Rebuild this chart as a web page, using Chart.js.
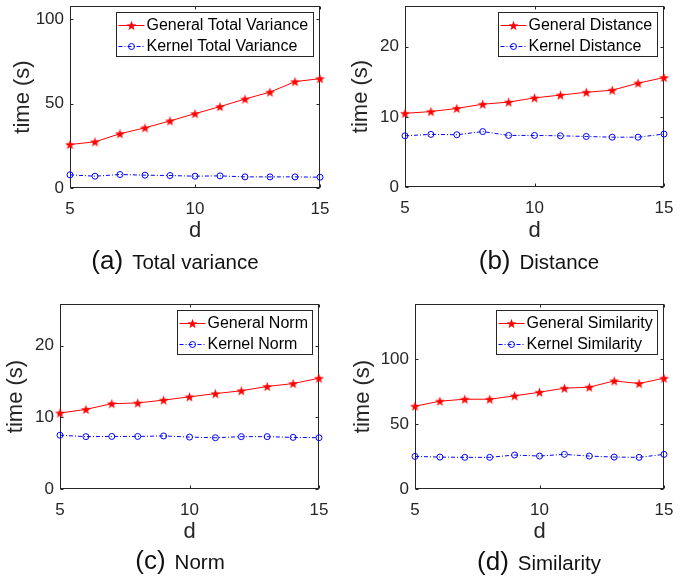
<!DOCTYPE html>
<html>
<head>
<meta charset="utf-8">
<title>Kernel vs General timing</title>
<script src="https://cdn.jsdelivr.net/npm/chart.js@4.4.1/dist/chart.umd.min.js"></script>
<style>
  html, body { margin: 0; padding: 0; background: #fff; }
  body { width: 697px; height: 577px; position: relative; overflow: hidden; font-family: "Liberation Sans", Arial, sans-serif; }
  .panel { position: absolute; }
  .caption { position: absolute; color: #111; white-space: nowrap; transform: translate(-50%, -50%); font-size: 20.5px; }
  .caption .tag { font-size: 26px; margin-right: 9px; }
</style>
</head>
<body>
<canvas id="chart-a" class="panel" style="left:0px;top:0px" width="335" height="250"></canvas>
<canvas id="chart-b" class="panel" style="left:345px;top:0px" width="340" height="250"></canvas>
<canvas id="chart-c" class="panel" style="left:0px;top:292px" width="335" height="258"></canvas>
<canvas id="chart-d" class="panel" style="left:345px;top:292px" width="340" height="258"></canvas>

<div class="caption" style="left:175px;top:260px"><span class="tag">(a)</span>Total variance</div>
<div class="caption" style="left:539px;top:260px"><span class="tag">(b)</span>Distance</div>
<div class="caption" style="left:180px;top:560px"><span class="tag">(c)</span>Norm</div>
<div class="caption" style="left:539px;top:561px"><span class="tag">(d)</span>Similarity</div>

<script>
// Data
const dValues = [5, 6, 7, 8, 9, 10, 11, 12, 13, 14, 15];
const xTicks = [5, 10, 15];

const varianceGeneral = [25.8, 27.4, 32.2, 35.7, 39.8, 44.1, 48.3, 52.8, 56.9, 63.1, 64.9];
const varianceKernel = [7.8, 7.0, 8.0, 7.6, 7.4, 7.0, 7.2, 6.6, 6.6, 6.6, 6.4];
const varianceTicks = [0, 50, 100];

const distanceGeneral = [10.5, 10.75, 11.2, 11.8, 12.1, 12.7, 13.1, 13.5, 13.8, 14.8, 15.6];
const distanceKernel = [7.3, 7.5, 7.45, 7.9, 7.35, 7.35, 7.3, 7.2, 7.1, 7.1, 7.55];
const distanceTicks = [0, 10, 20];

const normGeneral = [10.6, 11.1, 11.9, 12.0, 12.4, 12.85, 13.3, 13.7, 14.3, 14.7, 15.45];
const normKernel = [7.5, 7.3, 7.33, 7.33, 7.4, 7.24, 7.15, 7.3, 7.3, 7.2, 7.15];
const normTicks = [0, 10, 20];

const similarityGeneral = [63.8, 67.7, 69.2, 69.2, 71.8, 74.6, 77.7, 78.5, 83.3, 81.3, 85.4];
const similarityKernel = [25.1, 24.6, 24.4, 24.4, 26.2, 25.4, 26.7, 25.4, 24.6, 24.4, 26.7];
const similarityTicks = [0, 50, 100];

// Styling
const FONT = '"Liberation Sans", Arial, sans-serif';
const AXIS_COLOR = '#262626';
const RED = '#ff0000';
const BLUE = '#0000ff';

// Filled pentagram used as the point style of the "General" series
function makeStar(color) {
  const c = document.createElement('canvas');
  c.width = 11;
  c.height = 11;
  const ctx = c.getContext('2d');
  ctx.fillStyle = color;
  ctx.beginPath();
  for (let i = 0; i < 10; i++) {
    const r = i % 2 === 0 ? 5.2 : 2.1;
    const a = -Math.PI / 2 + i * Math.PI / 5;
    const x = 5.5 + r * Math.cos(a);
    const y = 6 + r * Math.sin(a);
    if (i === 0) ctx.moveTo(x, y); else ctx.lineTo(x, y);
  }
  ctx.closePath();
  ctx.fill();
  return c;
}
const starImg = makeStar(RED);

// Box with inward ticks on all four sides, plus a boxed legend (MATLAB look)
const matlabAxes = {
  id: 'matlabAxes',
  beforeDatasetsDraw(chart) {
    const { ctx, chartArea: a, scales } = chart;
    const L = Math.round(a.left) + 0.5, R = Math.round(a.right) - 0.5;
    const T = Math.round(a.top) + 0.5, B = Math.round(a.bottom) - 0.5;
    ctx.save();
    ctx.strokeStyle = AXIS_COLOR;
    ctx.lineWidth = 1;
    ctx.strokeRect(L, T, R - L, B - T);
    ctx.beginPath();
    scales.x.ticks.forEach(t => {
      const px = Math.round(scales.x.getPixelForValue(t.value)) + 0.5;
      ctx.moveTo(px, B); ctx.lineTo(px, B - 3);
      ctx.moveTo(px, T); ctx.lineTo(px, T + 3);
    });
    scales.y.ticks.forEach(t => {
      const py = Math.round(scales.y.getPixelForValue(t.value)) + 0.5;
      ctx.moveTo(L, py); ctx.lineTo(L + 3, py);
      ctx.moveTo(R, py); ctx.lineTo(R - 3, py);
    });
    ctx.stroke();
    ctx.restore();
  },
  afterDraw(chart) {
    const { ctx, chartArea: a } = chart;
    const sets = chart.data.datasets;
    ctx.save();
    ctx.font = `16px ${FONT}`;
    const textW = Math.max(...sets.map(ds => ctx.measureText(ds.label).width));
    const w = Math.round(30 + textW + 5), h = 44;
    const x0 = Math.round(a.right - 7 - w) + 0.5, y0 = Math.round(a.top + 6) + 0.5;
    ctx.fillStyle = '#fff';
    ctx.fillRect(x0, y0, w, h);
    ctx.strokeStyle = AXIS_COLOR;
    ctx.lineWidth = 1;
    ctx.strokeRect(x0, y0, w, h);

    sets.forEach((ds, i) => {
      const cy = Math.round(y0 + 12 + i * 21) + 0.5;
      ctx.strokeStyle = ds.borderColor;
      ctx.lineWidth = ds.borderWidth;
      ctx.setLineDash(ds.borderDash || []);
      ctx.beginPath();
      ctx.moveTo(x0 + 2, cy);
      ctx.lineTo(x0 + 28, cy);
      ctx.stroke();
      ctx.setLineDash([]);
      if (ds.pointStyle === 'circle') {
        ctx.beginPath();
        ctx.arc(x0 + 15, cy, ds.pointRadius, 0, Math.PI * 2);
        ctx.stroke();
      } else {
        ctx.drawImage(ds.pointStyle, Math.round(x0 + 15 - 5.5), Math.round(cy - 6));
      }
      ctx.fillStyle = '#000';
      ctx.textBaseline = 'middle';
      ctx.fillText(ds.label, x0 + 30, cy);
    });
    ctx.restore();
  }
};

// Build one panel; box = canvas position, plot = wanted plot-area edges in page pixels
function makePanel(id, box, plot, general, kernel, labels, yMax, yTicks, yTitlePad, xTitlePad) {
  const ctx = document.getElementById(id).getContext('2d');
  const toPoints = values => dValues.map((d, i) => ({ x: d, y: values[i] }));

  return new Chart(ctx, {
    type: 'line',
    data: {
      datasets: [{
        label: labels[0],
        data: toPoints(general),
        borderColor: RED,
        backgroundColor: RED,
        borderWidth: 1,
        pointStyle: starImg,
        pointRadius: 5,
        tension: 0,
        clip: false
      }, {
        label: labels[1],
        data: toPoints(kernel),
        borderColor: BLUE,
        backgroundColor: 'rgba(0,0,0,0)',
        borderWidth: 1,
        borderDash: [4, 2, 1, 2],
        pointStyle: 'circle',
        pointRadius: 3,
        pointBorderWidth: 1,
        pointBorderColor: BLUE,
        tension: 0,
        clip: false
      }]
    },
    options: {
      responsive: false,
      animation: false,
      devicePixelRatio: 1,
      layout: {
        padding: {
          top: plot.t - box.top,
          right: box.left + box.w - plot.r,
          left: 0,
          bottom: 0
        }
      },
      plugins: {
        legend: { display: false },
        tooltip: { enabled: false }
      },
      scales: {
        x: {
          type: 'linear',
          min: 5,
          max: 15,
          grid: { display: false, drawTicks: false },
          border: { display: false },
          afterBuildTicks: scale => { scale.ticks = xTicks.map(v => ({ value: v })); },
          afterFit: scale => {
            scale.height = box.top + box.h - plot.b;
            // edge labels must not shrink the plot area
            scale.paddingLeft = 0;
            scale.paddingRight = 0;
          },
          ticks: { font: { family: FONT, size: 17 }, color: AXIS_COLOR, padding: 11, maxRotation: 0 },
          title: { display: true, text: 'd', font: { family: FONT, size: 22 }, color: AXIS_COLOR, padding: { bottom: xTitlePad, top: 0 } }
        },
        y: {
          type: 'linear',
          min: 0,
          max: yMax,
          grid: { display: false, drawTicks: false },
          border: { display: false },
          afterBuildTicks: scale => { scale.ticks = yTicks.map(v => ({ value: v })); },
          afterFit: scale => {
            scale.width = plot.l - box.left;
            scale.paddingTop = 0;
            scale.paddingBottom = 0;
          },
          ticks: { font: { family: FONT, size: 17 }, color: AXIS_COLOR, padding: 6 },
          title: { display: true, text: 'time (s)', font: { family: FONT, size: 22 }, color: AXIS_COLOR, padding: { top: yTitlePad, bottom: 0 } }
        }
      }
    },
    plugins: [matlabAxes]
  });
}

function init() {
  makePanel('chart-a', { left: 0, top: 0, w: 335, h: 250 }, { l: 70, t: 3, r: 320, b: 188 },
    varianceGeneral, varianceKernel, ['General Total Variance', 'Kernel Total Variance'], 108, varianceTicks, 9.8, 5.8);
  makePanel('chart-b', { left: 345, top: 0, w: 340, h: 250 }, { l: 405, t: 6, r: 664, b: 187 },
    distanceGeneral, distanceKernel, ['General Distance', 'Kernel Distance'], 25.8, distanceTicks, 2.8, 5.8);
  makePanel('chart-c', { left: 0, top: 292, w: 335, h: 258 }, { l: 60, t: 304, r: 319, b: 489 },
    normGeneral, normKernel, ['General Norm', 'Kernel Norm'], 25.8, normTicks, 2.8, 4.8);
  makePanel('chart-d', { left: 345, top: 292, w: 340, h: 258 }, { l: 415, t: 304, r: 664, b: 489 },
    similarityGeneral, similarityKernel, ['General Similarity', 'Kernel Similarity'], 142.6, similarityTicks, 4.8, 4.8);
}

document.addEventListener('DOMContentLoaded', init);
</script>
</body>
</html>
